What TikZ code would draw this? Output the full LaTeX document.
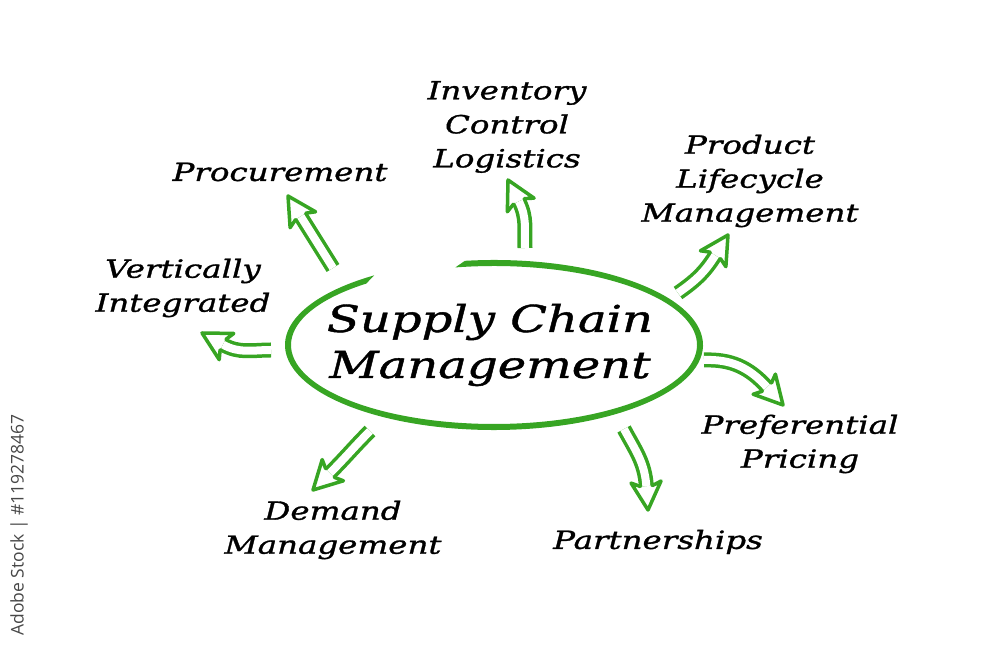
\documentclass[tikz,border=0pt]{standalone}
\usepackage{fontspec}
\setmainfont[FakeStretch=1.3, FakeBold=1.2]{DejaVu Serif}
\newfontfamily\wmfont{Open Sans}
\usetikzlibrary{calc}

\definecolor{scmgreen}{RGB}{55,165,35}

\tikzset{
    topic/.style={font=\fontsize{25}{34}\selectfont\itshape, align=center},
    hub/.style={font=\fontsize{37}{46}\selectfont\itshape, align=center},
    shaft/.style={draw=scmgreen, line width=3.5pt, double=white, double distance=8pt},
    arrhead/.pic={\draw[scmgreen, line width=3.5pt, line join=round, line cap=round]
        (-24,6) -- (-28,15) -- (0,0) -- (-28,-15) -- (-24,-6);}
}

% tail, out angle, tip, head angle, in angle
\newcommand{\hollowarrow}[5]{%
    \draw[shaft] (#1) to[out=#2, in=#5] ($(#3)+(#4+180:24)$);
    \pic[rotate=#4] at (#3) {arrhead};
}

\begin{document}
\begin{tikzpicture}[x=1pt, y=1pt]
    \useasboundingbox (0,0) rectangle (1000,650);

    % centre
    \node[hub] (scm) at (490,305) {Supply Chain\\Management};
    \coordinate (ring) at (494,305);
    \fill[scmgreen] ($(ring)+(98:209 and 85)$)
        arc[start angle=98, end angle=-235, x radius=209, y radius=85]
        -- ($(ring)+(-231:203 and 79)$)
        arc[start angle=-231, end angle=101, x radius=203, y radius=79] -- cycle;

    % topics
    \node[topic] (invc) at (507,523) {Inventory\\Control\\Logistics};
    \node[topic] (proc) at (280,478) {Procurement};
    \node[topic] (plm) at (750,469) {Product\\Lifecycle\\Management};
    \node[topic] (vert) at (183,362) {Vertically\\Integrated};
    \node[topic] (pref) at (800,206) {Preferential\\Pricing};
    \node[topic] (part) at (658,108) {Partnerships};
    \node[topic] (dem) at (333,120) {Demand\\Management};

    % arrow ends
    \coordinate (procTail) at (333,382);  \coordinate (procTip) at (288,454);
    \coordinate (invcTail) at (525,402);  \coordinate (invcTip) at (508,470);
    \coordinate (plmTail) at (678,357);   \coordinate (plmTip) at (728,415);
    \coordinate (prefTail) at (704,290);  \coordinate (prefTip) at (783,245);
    \coordinate (partTail) at (624,221);  \coordinate (partTip) at (648,140);
    \coordinate (demTail) at (370,219);   \coordinate (demTip) at (313,160);
    \coordinate (vertTail) at (271,300);  \coordinate (vertTip) at (202,317);

    \hollowarrow{procTail}{122}{procTip}{122}{-58}
    \hollowarrow{invcTail}{92}{invcTip}{117}{-63}
    \hollowarrow{plmTail}{35}{plmTip}{58}{-122}
    \hollowarrow{prefTail}{2}{prefTip}{-48}{132}
    \hollowarrow{partTail}{-62}{partTip}{-86}{94}
    \hollowarrow{demTail}{-135}{demTip}{-135}{45}
    \hollowarrow{vertTail}{180}{vertTip}{151}{-29}

    % stock mark
    \node[rotate=90, text=black!72, font=\wmfont\fontsize{17.5}{20}\selectfont] (mark) at (19,125)
        {Adobe Stock | \#119278467};
\end{tikzpicture}
\end{document}
